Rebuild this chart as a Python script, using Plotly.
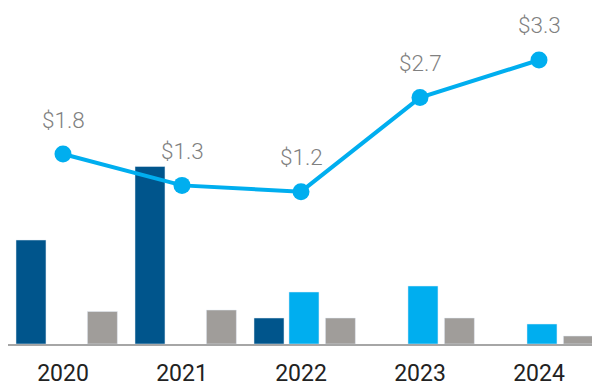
import plotly.graph_objects as go

years = ["2020", "2021", "2022", "2023", "2024"]
series_a = [10.4, 17.75, 2.6, None, None]      # dark blue bars
series_b = [None, None, 5.2, 5.8, 2.0]         # light blue bars
series_c = [3.25, 3.4, 2.6, 2.6, 0.8]          # gray bars
line_vals = [1.8, 1.3, 1.2, 2.7, 3.3]
line_labels = ["$1.8", "$1.3", "$1.2", "$2.7", "$3.3"]

DARK = "#00558C"
LIGHT = "#00AEEF"
GRAY = "#A09D9A"

BW = 0.252
fig = go.Figure()
fig.add_trace(go.Bar(x=years, y=series_a, marker_color=DARK, width=BW, offset=-0.395, name="A"))
fig.add_trace(go.Bar(x=years, y=series_b, marker_color=LIGHT, width=BW, offset=-0.101, name="B"))
fig.add_trace(go.Bar(x=years, y=series_c, marker_color=GRAY, width=BW, offset=0.205, name="C"))
fig.add_trace(go.Scatter(x=years, y=line_vals, yaxis="y2", mode="lines+markers",
                         line=dict(color=LIGHT, width=4),
                         marker=dict(color=LIGHT, size=17), name="L"))

for i, (v, t) in enumerate(zip(line_vals, line_labels)):
    fig.add_annotation(x=i, y=v, xref="x", yref="y2", text=t, showarrow=False,
                       yshift=34.5, yanchor="middle",
                       font=dict(family="Roboto", size=22.5, color="#808080", weight=300))

# page is offset by the body's 8px margin; sizes compensate
fig.update_layout(
    width=592, height=380,
    margin=dict(l=0, r=0, t=0, b=44),
    paper_bgcolor="white", plot_bgcolor="white",
    showlegend=False,
    barmode="overlay",
    xaxis=dict(type="category", range=[-0.4622, 4.5126], showgrid=False, zeroline=False,
               showline=True, linecolor="#A6A6A6", linewidth=2,
               ticks="", ticklabelstandoff=7,
               tickfont=dict(family="Roboto", size=23, color="#222222")),
    yaxis=dict(range=[0, 33.6], visible=False, showgrid=False, zeroline=False),
    yaxis2=dict(range=[-1.2297, 4.129], overlaying="y", visible=False,
                showgrid=False, zeroline=False),
)

fig.write_html("out.html")
